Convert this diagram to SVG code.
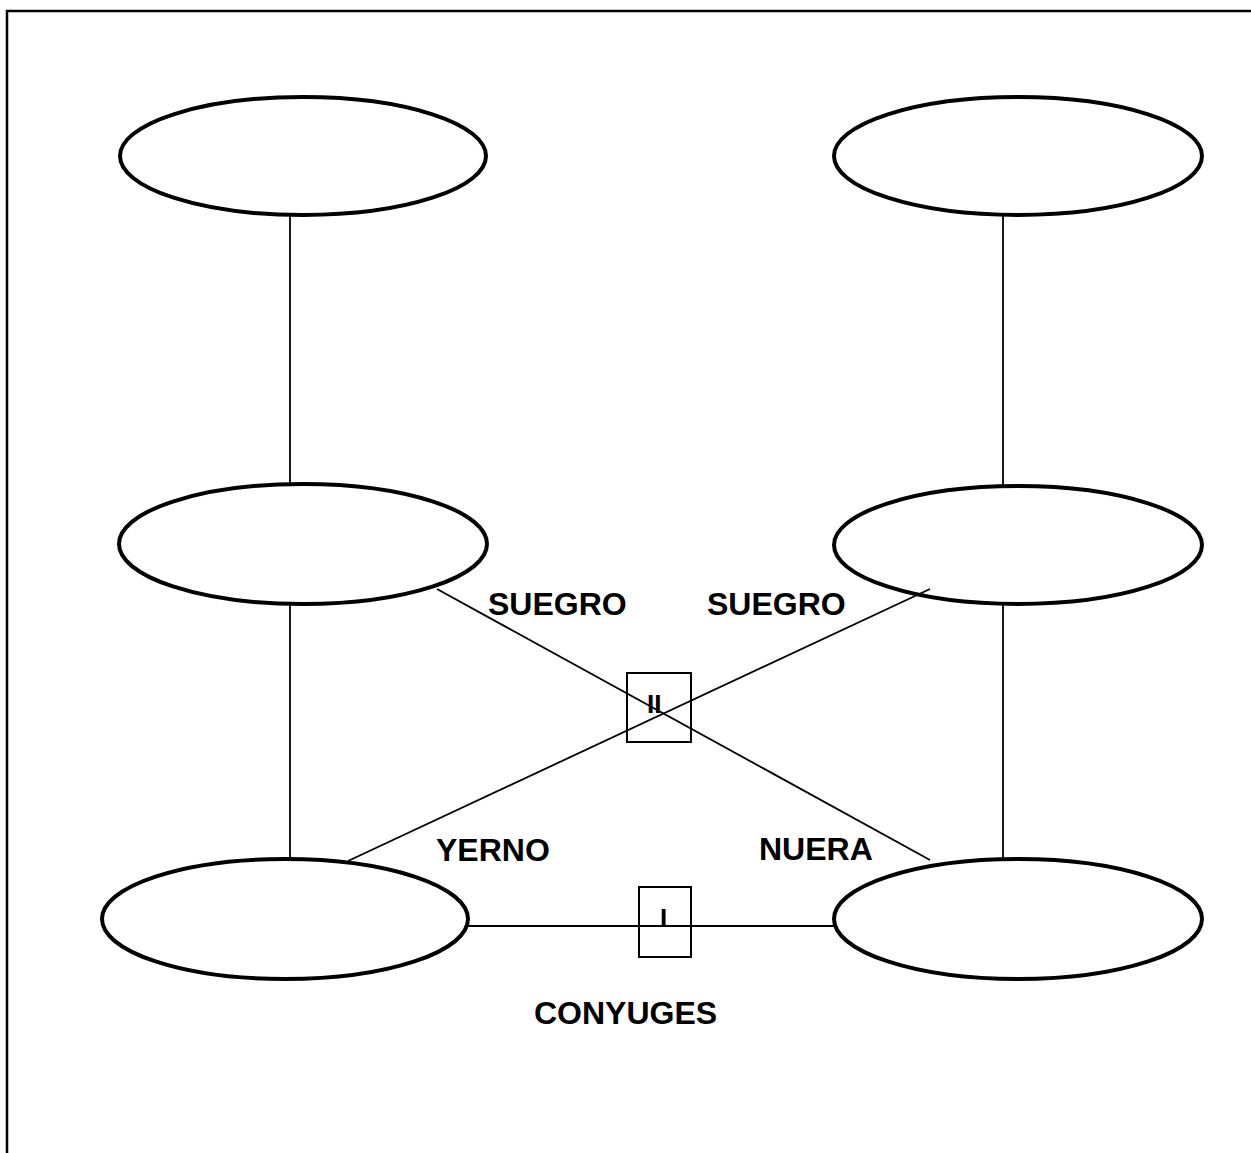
<svg xmlns="http://www.w3.org/2000/svg" width="1251" height="1153" viewBox="0 0 1251 1153">
<style>
.node{fill:none;stroke:#000;stroke-width:4}
.edge{stroke:#000;stroke-width:1.8;fill:none}
.box{fill:none;stroke:#000;stroke-width:2}
.lbl{font-family:"Liberation Sans",Arial,sans-serif;font-weight:bold;font-size:32px;fill:#000}
.mk{font-family:"Liberation Sans",Arial,sans-serif;font-weight:bold;font-size:26px;fill:#000}
</style>
<rect x="0" y="0" width="1251" height="1153" fill="#fff"/>
<rect x="7" y="11" width="1300" height="1200" fill="none" stroke="#000" stroke-width="2.5"/>
<g id="connectors">
<line class="edge" x1="290" y1="215" x2="290" y2="484"/>
<line class="edge" x1="290" y1="603" x2="290" y2="860"/>
<line class="edge" x1="1003" y1="215" x2="1003" y2="487"/>
<line class="edge" x1="1003" y1="603" x2="1003" y2="860"/>
<line class="edge" x1="437" y1="589" x2="930" y2="860"/>
<line class="edge" x1="348" y1="861" x2="930" y2="589"/>
<line class="edge" x1="468" y1="926" x2="834" y2="926"/>
</g>
<g id="n1"><ellipse class="node" cx="303" cy="156" rx="183" ry="59"/></g>
<g id="n2"><ellipse class="node" cx="1018" cy="156" rx="184" ry="59"/></g>
<g id="n3"><ellipse class="node" cx="303" cy="544" rx="184" ry="60"/></g>
<g id="n4"><ellipse class="node" cx="1018" cy="545" rx="184" ry="59"/></g>
<g id="n5"><ellipse class="node" cx="285" cy="919" rx="183" ry="60"/></g>
<g id="n6"><ellipse class="node" cx="1018" cy="919" rx="184" ry="60"/></g>
<g id="marker-II">
<rect class="box" x="627" y="673" width="64" height="69"/>
<text class="mk" x="647" y="713">II</text>
</g>
<g id="marker-I">
<rect class="box" x="639" y="887" width="52" height="70"/>
<text class="mk" x="660" y="927">I</text>
</g>
<g id="labels">
<text class="lbl" x="488" y="615">SUEGRO</text>
<text class="lbl" x="707" y="615">SUEGRO</text>
<text class="lbl" x="436" y="861">YERNO</text>
<text class="lbl" x="759" y="860">NUERA</text>
<text class="lbl" x="534" y="1024">CONYUGES</text>
</g>
</svg>
